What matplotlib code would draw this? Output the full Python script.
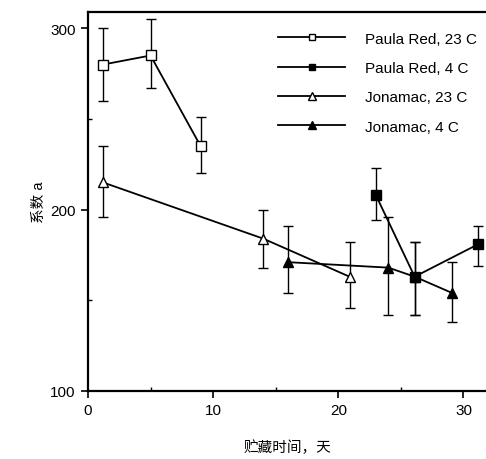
"""
Coefficient a vs storage time for two apple varieties
"""
import matplotlib
matplotlib.use('Agg')
import matplotlib.pyplot as plt
from matplotlib.ticker import MultipleLocator

plt.rcParams['font.family'] = ['Liberation Sans', 'Noto Sans CJK SC', 'DejaVu Sans']

# Paula Red, 23 C
pr23_x = [1.2, 5.0, 9.0]
pr23_y = [280, 285, 235]
pr23_lo = [260, 267, 220]
pr23_hi = [300, 305, 251]

# Paula Red, 4 C
pr4_x = [23.0, 26.1, 31.2]
pr4_y = [208, 163, 181]
pr4_lo = [194, 142, 169]
pr4_hi = [223, 182, 191]

# Jonamac, 23 C
jo23_x = [1.2, 14.0, 20.9]
jo23_y = [215, 184, 163]
jo23_lo = [196, 168, 146]
jo23_hi = [235, 200, 182]

# Jonamac, 4 C
jo4_x = [16.0, 24.0, 26.1, 29.1]
jo4_y = [171, 168, 163, 154]
jo4_lo = [154, 142, 142, 138]
jo4_hi = [191, 196, 182, 171]

labels = ['Paula Red, 23 C', 'Paula Red, 4 C', 'Jonamac, 23 C', 'Jonamac, 4 C']

fig = plt.figure(figsize=(4.86, 4.6), dpi=100)
ax = fig.add_axes([0.181, 0.148, 0.819, 0.823])


def draw(x, y, lo, hi, marker, filled, label):
    yerr = [[v - l for v, l in zip(y, lo)], [h - v for v, h in zip(y, hi)]]
    ax.errorbar(x, y, yerr=yerr, fmt='none', ecolor='black', elinewidth=1.0,
                capsize=3.5, capthick=1.0, clip_on=False, zorder=2)
    line, = ax.plot(x, y, color='black', lw=1.3, marker=marker, ms=6.5 if marker == 's' else 7,
                    mfc='black' if filled else 'white', mec='black', mew=1.0,
                    label=label, clip_on=False, zorder=3)
    return line


handles = [
    draw(pr23_x, pr23_y, pr23_lo, pr23_hi, 's', False, labels[0]),
    draw(pr4_x, pr4_y, pr4_lo, pr4_hi, 's', True, labels[1]),
    draw(jo23_x, jo23_y, jo23_lo, jo23_hi, '^', False, labels[2]),
    draw(jo4_x, jo4_y, jo4_lo, jo4_hi, '^', True, labels[3]),
]

ax.set_xlim(0, 31.8)
ax.set_ylim(100, 308.8)
ax.xaxis.set_major_locator(MultipleLocator(10))
ax.xaxis.set_minor_locator(MultipleLocator(5))
ax.yaxis.set_major_locator(MultipleLocator(100))
ax.yaxis.set_minor_locator(MultipleLocator(50))
ax.tick_params(which='major', direction='out', length=5, width=1.2, labelsize=11, pad=4)
ax.tick_params(which='minor', direction='in', length=3, width=1.0)
ax.spines['right'].set_visible(False)
for side in ['left', 'bottom', 'top']:
    ax.spines[side].set_linewidth(1.6)

ax.set_xlabel('贮藏时间，天', fontsize=10.5, labelpad=16)
ax.set_ylabel('系数 a', fontsize=10.5, labelpad=3)

leg = ax.legend(handles=handles, loc='upper right', bbox_to_anchor=(1.012, 0.985),
                frameon=False, fontsize=11, handlelength=4.4, handletextpad=1.3,
                labelspacing=1.0, markerscale=0.75)

plt.savefig('out.png', dpi=100)
plt.close()
